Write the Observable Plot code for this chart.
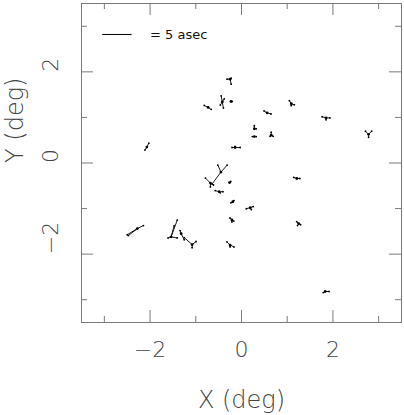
<!DOCTYPE html>
<html><head><meta charset="utf-8">
<script src="https://cdn.jsdelivr.net/npm/d3@7"></script>
<script src="https://cdn.jsdelivr.net/npm/@observablehq/plot@0.6"></script>
<style>html,body{margin:0;padding:0;background:#fff;}</style>
</head><body><div id="chart"></div>
<script>
// Star positions (deg)
const starX = [-2.28,-1.54,-1.32,-1.08,-0.45,-0.68,-0.49,-0.26,-0.19,0.19,1.21,-0.21,1.25,-2.07,-0.14,1.09,0.56,1.85,0.28,0.28,0.65,2.78,-0.25,-0.42,-0.23,-0.73,1.83,-0.25];
const starY = [-1.44,-1.62,-1.55,-1.79,-0.20,-0.44,-0.63,-0.43,-0.85,-0.98,-0.34,-1.25,-1.33,0.35,0.34,1.30,1.10,0.99,0.75,0.58,0.61,0.63,1.84,1.34,1.35,1.22,-2.82,-1.80];
// Residual vectors (asec), each tied to a star index
const vecStar = [0,0,0, 1,1,1,1, 2,2, 3,3,3, 4,4,4, 5,5,5, 6,6,6, 7, 8,8, 9,9,9, 10,10, 11,11,11, 12,12,12, 13,13, 14,14,14, 15,15,15, 16,16, 17,17,17, 18,18, 19,19, 20,20,20, 21,21,21, 22,22,22, 23,23,23,23, 24, 25,25, 26,26, 27,27,27];
const vecEx = [-1.8,-1.6,1.1, 0.55,1.1,1.1,-0.55, 0.55,-0.2, -1.4,0.7,0, -1.6,-0.55,1.1, -0.9,0.55,0, -0.7,0.7,0.2, 0.2, -0.35,0.2, -0.7,0.55,0.2, -0.55,0.55, -0.35,0.35,0, -0.35,0.35,-0.2, 0.35,-0.35, -0.55,0.9,0, -0.35,0.55,0, -0.55,0.7, -0.7,0.7,0, 0,0.35, -0.35,0.35, 0,-0.2,0.35, -0.55,0.55,0, -0.55,0.2,0.2, -0.2,0.2,-0.35,0.35, 0.2, -0.7,0.55, -0.35,0.7, -0.55,0.7,0];
const vecEy = [-1.1,-1.25,0.55, 2.0,3.0,-0.2,-0.2, -1.1,0.55, 1.25,0.55,-0.55, -2.15,1.25,1.25, 0.9,-0.35,-0.7, 0.2,0,-0.2, 0.2, -0.2,0.2, -0.2,0.2,-0.35, 0.2,0, 0.35,-0.2,-0.35, 0.35,-0.2,-0.35, 0.7,-0.55, 0,0,0.2, 0.55,-0.2,-0.35, 0.35,-0.2, 0.2,0,-0.35, 0.55,0, 0,0, 0.55,-0.2,-0.2, 0.55,0.55,-0.55, 0,-0.9,0.2, 1.1,-1.1,-0.55,0.55, 0, 0.35,-0.35, -0.2,0, 0.55,-0.35,-0.35];
// Axis ticks
const majorTicks = [-2, 0, 2];
const minorTicks = [-3, -1, 1, 3];
const xTitle = "X (deg)";
const yTitle = "Y (deg)";
// Scale bar
const scaleAsec = 5;
const scaleLabel = "= 5 asec";
const scaleX = -3.03, scaleY = 2.82, scaleLabelX = -2.0;
const degPerAsec = 0.122;

const stars = starX.map((x, i) => ({x, y: starY[i]}));
const vectors = vecStar.map((s, i) => ({
  x1: starX[s], y1: starY[s],
  x2: starX[s] + vecEx[i] * degPerAsec, y2: starY[s] + vecEy[i] * degPerAsec
}));
const scaleBar = [{x1: scaleX, x2: scaleX + scaleAsec * degPerAsec, y: scaleY}];
const fmt = d => d < 0 ? "\u2212" + (-d) : String(d);

const W = 404, H = 415, mL = 81, mR = 3, mT = 3, mB = 93;
const fw = W - mL - mR, fh = H - mT - mB;
const axisColor = "#7a7a7a", textColor = "#444";
const font = "'DejaVu Sans', sans-serif";

const chart = Plot.plot({
  width: W, height: H,
  marginLeft: mL, marginRight: mR, marginTop: mT, marginBottom: mB,
  style: {background: "#fff", fontFamily: font},
  x: {domain: [-3.5, 3.5], axis: null},
  y: {domain: [-3.5, 3.5], axis: null},
  marks: [
    Plot.frame({stroke: axisColor, strokeWidth: 1}),
    // bottom & top ticks
    Plot.tickX(majorTicks, {x: d => d, insetTop: fh - 12, stroke: axisColor}),
    Plot.tickX(minorTicks, {x: d => d, insetTop: fh - 6, stroke: axisColor}),
    Plot.tickX(majorTicks, {x: d => d, insetBottom: fh - 12, stroke: axisColor}),
    Plot.tickX(minorTicks, {x: d => d, insetBottom: fh - 6, stroke: axisColor}),
    // left & right ticks
    Plot.tickY(majorTicks, {y: d => d, insetRight: fw - 12, stroke: axisColor}),
    Plot.tickY(minorTicks, {y: d => d, insetRight: fw - 6, stroke: axisColor}),
    Plot.tickY(majorTicks, {y: d => d, insetLeft: fw - 12, stroke: axisColor}),
    Plot.tickY(minorTicks, {y: d => d, insetLeft: fw - 6, stroke: axisColor}),
    // tick labels
    Plot.text(majorTicks, {x: d => d, frameAnchor: "bottom", dy: 27, text: fmt, fontSize: 22, fill: textColor, fontWeight: 200, lineAnchor: "middle"}),
    Plot.text(majorTicks, {y: d => d, frameAnchor: "left", dx: -31, text: fmt, fontSize: 22, fill: textColor, fontWeight: 200, rotate: -90, lineAnchor: "middle"}),
    // axis titles
    Plot.text([xTitle], {frameAnchor: "bottom", dy: 78, text: d => d, fontSize: 24, fill: textColor, fontWeight: 200, lineAnchor: "middle"}),
    Plot.text([yTitle], {frameAnchor: "left", dx: -66, text: d => d, fontSize: 24, fill: textColor, fontWeight: 200, rotate: -90, lineAnchor: "middle"}),
    // scale bar
    Plot.link(scaleBar, {x1: "x1", x2: "x2", y1: "y", y2: "y", stroke: "#000", strokeWidth: 1}),
    Plot.dot(scaleBar, {x: "x1", y: "y", r: 0.8, fill: "#000"}),
    Plot.dot(scaleBar, {x: "x2", y: "y", r: 0.8, fill: "#000"}),
    Plot.text([scaleLabel], {x: scaleLabelX, y: scaleY, text: d => d, textAnchor: "start", fontSize: 13, fill: "#111", lineAnchor: "middle"}),
    // vectors
    Plot.link(vectors, {x1: "x1", y1: "y1", x2: "x2", y2: "y2", stroke: "#000", strokeWidth: 0.9}),
    Plot.dot(vectors, {x: "x2", y: "y2", r: 0.9, fill: "#000"}),
    Plot.dot(stars, {x: "x", y: "y", r: 1.4, fill: "#000"})
  ]
});
document.getElementById("chart").appendChild(chart);
</script>
</body></html>
